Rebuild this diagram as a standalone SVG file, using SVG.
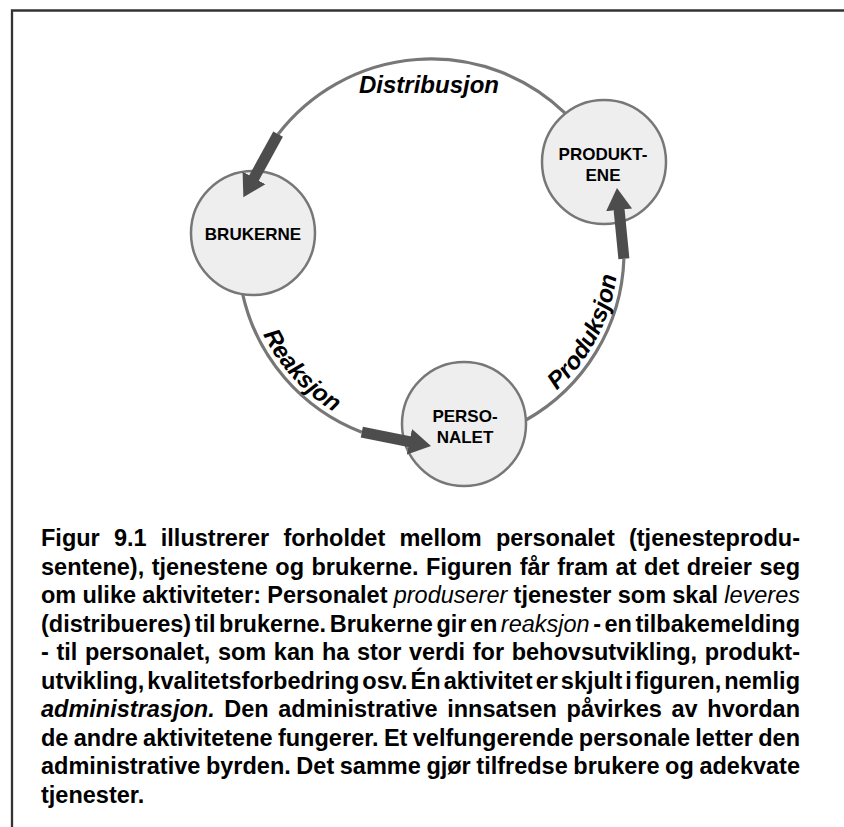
<svg xmlns="http://www.w3.org/2000/svg" width="844" height="827" viewBox="0 0 844 827">
<style>
.frame{fill:none;stroke:#333;stroke-width:2.3}
.ring{fill:none;stroke:#777;stroke-width:3.2}
.shaft{fill:none;stroke:#4d4d4d;stroke-width:11;marker-end:url(#ah)}
.node circle{fill:#eeeeee;stroke:#777;stroke-width:2.5}
.node text{font-family:"Liberation Sans",Arial,sans-serif;font-weight:bold;font-size:17px;text-anchor:middle;fill:#000}
.lbl{font-family:"Liberation Sans",Arial,sans-serif;font-weight:bold;font-style:italic;font-size:24px;fill:#000}
.cap{font-family:"Liberation Sans",Arial,sans-serif;font-weight:bold;font-size:23.5px;fill:#000}
.it{font-style:italic;font-weight:normal}
.bi{font-style:italic}
</style>
<defs>
<marker id="ah" markerUnits="userSpaceOnUse" markerWidth="23" markerHeight="28" viewBox="0 -14 23 28" refX="1" refY="0" orient="auto">
<path d="M0,-13 L22,0 L0,13 Z" fill="#4d4d4d"/>
</marker>
<path id="tpR" d="M244.7,268.3 A187,187 0 0 0 398.5,436.2"/>
<path id="tpP" d="M510,421.5 A187,187 0 0 0 615.2,219.5"/>
</defs>
<path class="frame" d="M12,827 V10.5 H844"/>
<g id="nodes">
<g id="brukerne" class="node"><circle cx="253" cy="233" r="62"/><text x="253" y="240">BRUKERNE</text></g>
<g id="produktene" class="node"><circle cx="604" cy="162" r="62"/><text x="603" y="159.5">PRODUKT-</text><text x="603" y="180.5">ENE</text></g>
<g id="personalet" class="node"><circle cx="464" cy="424" r="62"/><text x="465" y="422">PERSO-</text><text x="465" y="443">NALET</text></g>
</g>
<g id="connectors">
<path class="ring" d="M565.1,113.2 A193,193 0 0 0 278.1,134.2"/>
<path class="shaft" d="M278.1,134.2 L253.5,178.8"/>
<path class="ring" d="M242.6,293.8 A193,193 0 0 0 361.8,432.2"/>
<path class="shaft" d="M361.8,432.2 L410.4,441.9"/>
<path class="ring" d="M526,420 A193,193 0 0 0 623.9,258.7"/>
<path class="shaft" d="M623.9,258.7 L619,208.9"/>
</g>
<g id="labels">
<text class="lbl" x="429" y="93" text-anchor="middle">Distribusjon</text>
<text class="lbl" font-size="25"><textPath href="#tpR" startOffset="50%" text-anchor="middle">Reaksjon</textPath></text>
<text class="lbl"><textPath href="#tpP" startOffset="50%" text-anchor="middle">Produksjon</textPath></text>
</g>
<g id="caption" class="cap">
<text x="41" y="546" textLength="759" lengthAdjust="spacing" word-spacing="7.67">Figur 9.1 illustrerer forholdet mellom personalet (tjenesteprodu-</text>
<text x="41" y="574.5" textLength="759" lengthAdjust="spacing" word-spacing="0.94">sentene), tjenestene og brukerne. Figuren får fram at det dreier seg</text>
<text x="41" y="603" textLength="759" lengthAdjust="spacing" word-spacing="-0.3">om ulike aktiviteter: Personalet <tspan class="it">produserer</tspan> tjenester som skal <tspan class="it">leveres</tspan></text>
<text x="41" y="631.5" textLength="759" lengthAdjust="spacing" word-spacing="-3">(distribueres) til brukerne. Brukerne gir en <tspan class="it">reaksjon</tspan> - en tilbakemelding</text>
<text x="41" y="660" textLength="759" lengthAdjust="spacing" word-spacing="1.07">- til personalet, som kan ha stor verdi for behovsutvikling, produkt-</text>
<text x="41" y="688.5" textLength="759" lengthAdjust="spacing" word-spacing="-3.6">utvikling, kvalitetsforbedring osv. Én aktivitet er skjult i figuren, nemlig</text>
<text x="41" y="717" textLength="759" lengthAdjust="spacing" word-spacing="3.08"><tspan class="bi">administrasjon.</tspan> Den administrative innsatsen påvirkes av hvordan</text>
<text x="41" y="745.5" textLength="759" lengthAdjust="spacing" word-spacing="-1.28">de andre aktivitetene fungerer. Et velfungerende personale letter den</text>
<text x="41" y="774" textLength="759" lengthAdjust="spacing" word-spacing="-0.95">administrative byrden. Det samme gjør tilfredse brukere og adekvate</text>
<text x="41" y="802.5">tjenester.</text>
</g>
</svg>
